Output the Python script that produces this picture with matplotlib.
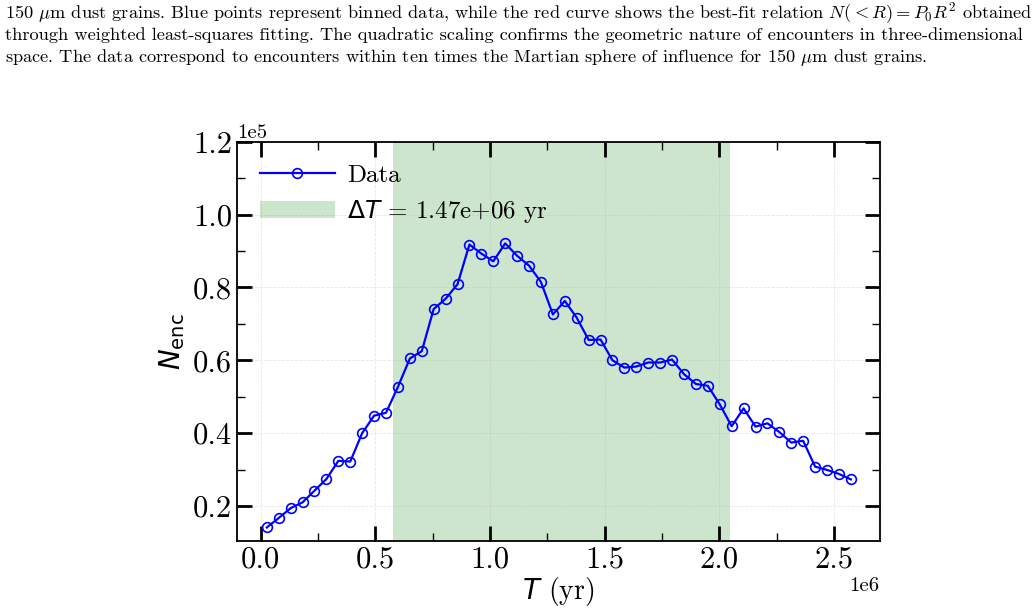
import numpy as np
import matplotlib
matplotlib.use("Agg")
import matplotlib.pyplot as plt
from matplotlib.ticker import MultipleLocator

plt.rcParams['font.family'] = 'serif'
plt.rcParams['font.serif'] = ['cmr10', 'DejaVu Serif']
plt.rcParams['axes.unicode_minus'] = False
plt.rcParams['mathtext.fontset'] = 'dejavusans'

# binned encounter counts (50 bins of 0.052e6 yr)
t_centers = (np.arange(50) + 0.5) * 0.052e6
n_enc = np.array([
    0.141, 0.167, 0.194, 0.210, 0.242, 0.274, 0.324, 0.322, 0.400, 0.448,
    0.456, 0.527, 0.605, 0.625, 0.741, 0.769, 0.809, 0.918, 0.893, 0.872,
    0.921, 0.887, 0.860, 0.815, 0.726, 0.763, 0.717, 0.656, 0.657, 0.600,
    0.580, 0.583, 0.594, 0.594, 0.602, 0.562, 0.535, 0.530, 0.479, 0.419,
    0.468, 0.418, 0.427, 0.403, 0.374, 0.379, 0.308, 0.299, 0.288, 0.273,
]) * 1e5
span_start = 0.575e6
span_width = 1.47e6

caption = [
    r"150 $\mu$m dust grains. Blue points represent binned data, while the red curve shows the best-fit relation $N(<R) = P_0R^2$ obtained",
    r"through weighted least-squares fitting. The quadratic scaling confirms the geometric nature of encounters in three-dimensional",
    r"space. The data correspond to encounters within ten times the Martian sphere of influence for 150 $\mu$m dust grains.",
]

fig = plt.figure(figsize=(10.35, 6.14), dpi=100)
for i, line in enumerate(caption):
    fig.text(0.005, 0.978 - i * 0.0358, line, fontsize=13.2, va='center', ha='left',
             math_fontfamily='cm')

ax = fig.add_axes([0.229, 0.119, 0.621, 0.650])
ax.axvspan(span_start, span_start + span_width, color='green', alpha=0.2, lw=0,
           label=r'$\Delta T$ = %.2e yr' % span_width)
ax.plot(t_centers, n_enc, '-o', color='blue', mfc='none', ms=7, lw=1.6, mew=1.2,
        label='Data')

ax.set_xlim(-0.104e6, 2.70e6)
ax.set_ylim(0.104e5, 1.2e5)
ax.ticklabel_format(axis='both', style='sci', scilimits=(0, 0))
ax.xaxis.set_major_locator(MultipleLocator(0.5e6))
ax.xaxis.set_minor_locator(MultipleLocator(0.25e6))
ax.yaxis.set_major_locator(MultipleLocator(0.2e5))
ax.yaxis.set_minor_locator(MultipleLocator(0.1e5))
ax.tick_params(which='both', direction='in', top=True, right=True, labelsize=22)
ax.tick_params(which='major', length=11, width=2)
ax.tick_params(which='minor', length=5.5, width=1)
ax.xaxis.get_offset_text().set_fontsize(15)
ax.yaxis.get_offset_text().set_fontsize(15)
ax.grid(True, ls='--', lw=0.6, alpha=0.3)
for s in ax.spines.values():
    s.set_linewidth(1.3)

ax.set_xlabel(r'$T$ (yr)', fontsize=20, labelpad=1)
ax.set_ylabel(r'$N_{\rm enc}$', fontsize=20, labelpad=4)

h, l = ax.get_legend_handles_labels()
ax.legend(h[::-1], l[::-1], loc='upper left', frameon=False, fontsize=18,
          handlelength=3.0, handletextpad=0.5, borderaxespad=0.5, labelspacing=0.45)

fig.savefig('out.png', dpi=100)
